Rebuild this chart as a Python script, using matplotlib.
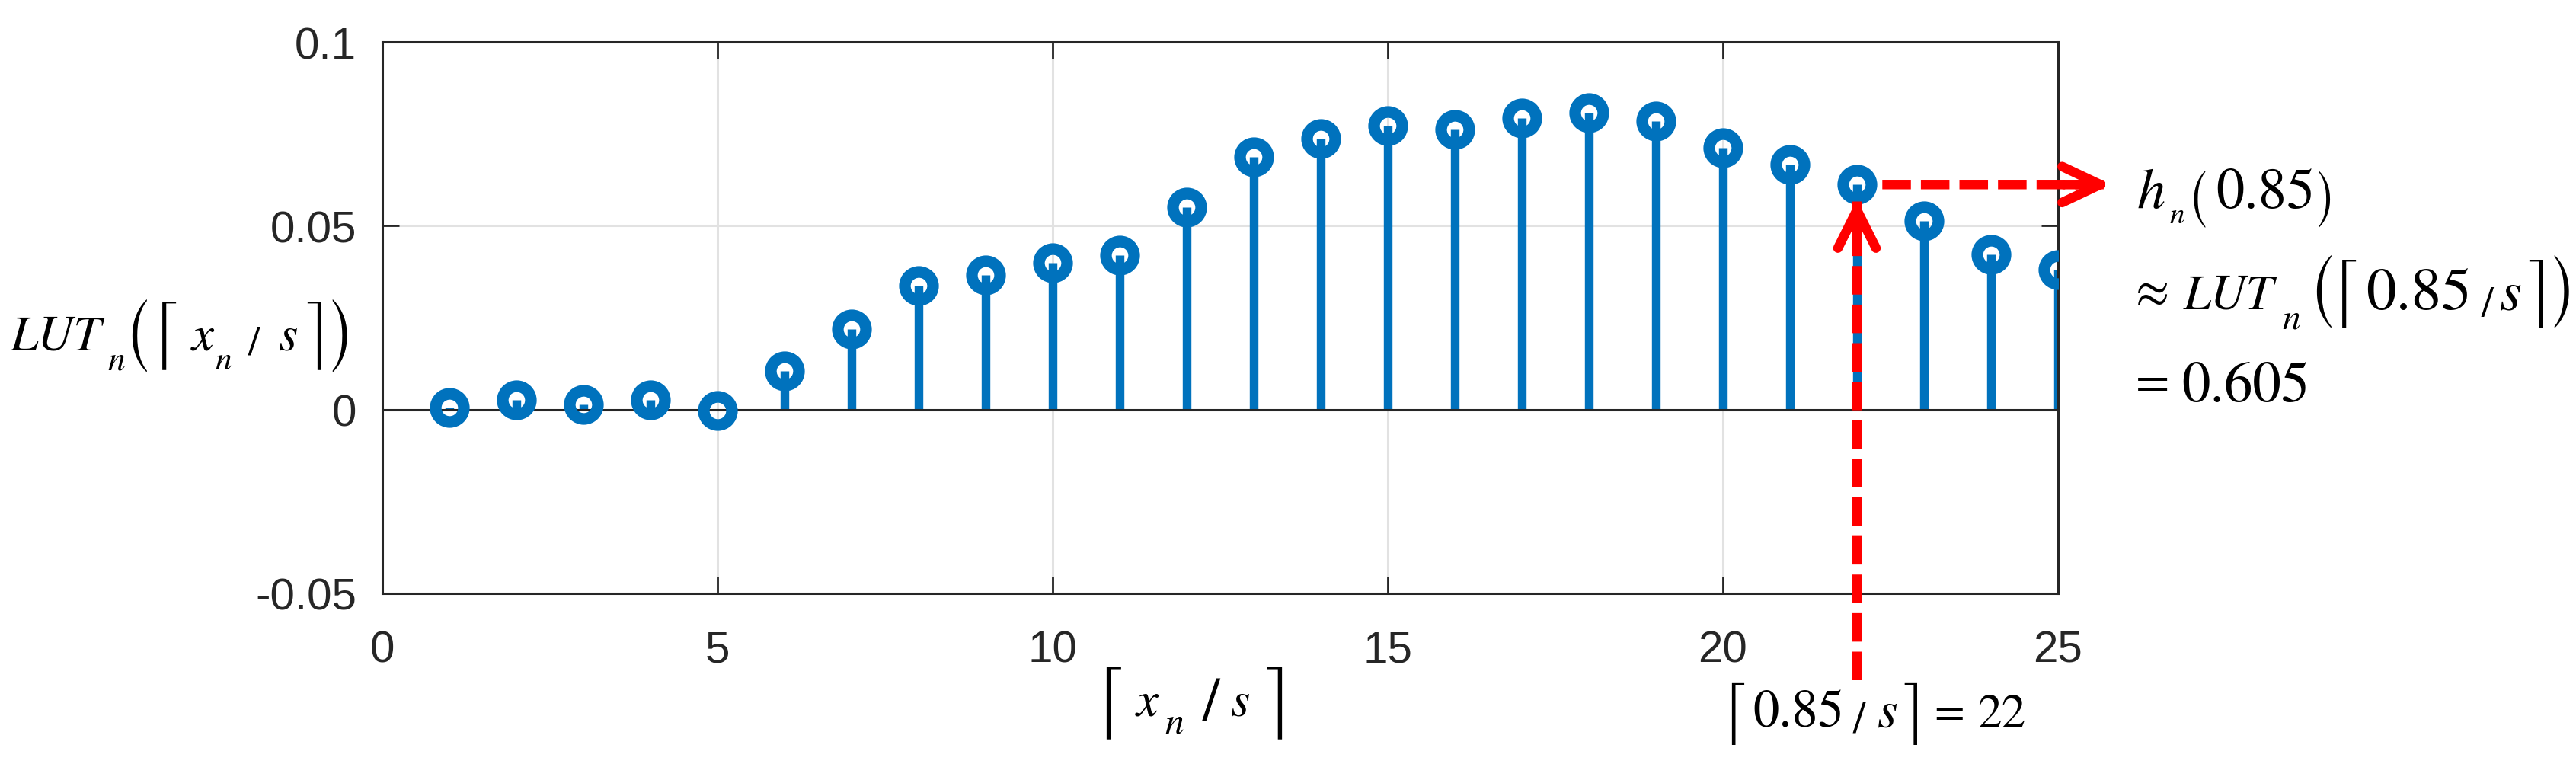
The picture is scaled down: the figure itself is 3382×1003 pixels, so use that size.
import os
import matplotlib as mpl
mpl.use("Agg")
import matplotlib.pyplot as plt
from matplotlib.textpath import TextPath
from matplotlib.font_manager import FontProperties

# ---- data ----
x_idx = list(range(1, 26))
lut_vals = [0.0005, 0.0026, 0.0013, 0.0026, -0.0003, 0.0106, 0.0219, 0.0336,
            0.0367, 0.0400, 0.0419, 0.0550, 0.0688, 0.0736, 0.0772, 0.0762,
            0.0793, 0.0808, 0.0784, 0.0713, 0.0667, 0.0612, 0.0514, 0.0422,
            0.0380]
x_ticks = [0, 5, 10, 15, 20, 25]
y_ticks = [-0.05, 0, 0.05, 0.1]
y_ticklabels = ["-0.05", "0", "0.05", "0.1"]
sel_idx = 22

plt.rcParams['font.family'] = ['Liberation Sans', 'DejaVu Sans']

W, H = 3382, 1004
fig = plt.figure(figsize=(W / 100, H / 100), dpi=100)
ax = fig.add_axes([501.6 / W, 1 - 780 / H, (2702 - 501.6) / W, (780 - 56) / H])

blue = '#0072BD'
dark = '#262626'

ml, sl, bl = ax.stem(x_idx, lut_vals, basefmt=' ')
ml.set(marker='o', markersize=26.6, markeredgewidth=11, markerfacecolor='none',
       markeredgecolor=blue, zorder=3)
sl.set(linewidth=8.2, color=blue, zorder=2)
ax.axhline(0, color=dark, lw=2.2, zorder=2.5)

ax.set_xlim(0, 25)
ax.set_ylim(-0.05, 0.1)
ax.set_xticks(x_ticks)
ax.set_yticks(y_ticks)
ax.set_yticklabels(y_ticklabels)
ax.set_axisbelow(True)
ax.grid(True, color='#e2e2e2', lw=2.2)
for s in ax.spines.values():
    s.set_color(dark)
    s.set_linewidth(2.2)
ax.tick_params(direction='in', length=16, width=2, colors=dark,
               top=True, right=True, labelsize=42)
ax.tick_params(axis='x', pad=34)
ax.tick_params(axis='y', pad=24)

# ---- math labels composed from text pieces (pixel layout, Times-like STIX) ----
_ttf = os.path.join(mpl.get_data_path(), 'fonts', 'ttf')
fp_big = FontProperties(fname=os.path.join(_ttf, 'STIXSizOneSymReg.ttf'))
reg = FontProperties(fname=os.path.join(_ttf, 'STIXGeneral.ttf'))
ita = FontProperties(fname=os.path.join(_ttf, 'STIXGeneralItalic.ttf'))


def _ink(s, fp):
    e = TextPath((0, 0), s, size=100, prop=fp).get_extents()
    return e.x0 / 100.0, e.y0 / 100.0, e.width / 100.0, e.height / 100.0


def _draw(s, fp, x_left, base, f_px):
    x0, _, _, _ = _ink(s, fp)
    fig.text((x_left - x0 * f_px) / W, 1 - base / H, s, fontproperties=fp,
             fontsize=f_px * 0.72, ha='left', va='baseline', color='black')


def put_fs(s, fp, x_left, base, f_px):
    _draw(s, fp, x_left, base, f_px)
    return f_px


def put_w(s, fp, x_left, x_right, base):
    _, _, w, _ = _ink(s, fp)
    f_px = (x_right - x_left) / w
    _draw(s, fp, x_left, base, f_px)
    return f_px


def put_wc(s, fp, x_left, x_right, y_mid):
    _, y0, w, h = _ink(s, fp)
    f_px = (x_right - x_left) / w
    base = y_mid + (y0 + h / 2.0) * f_px
    _draw(s, fp, x_left, base, f_px)
    return f_px


def put_box(s, fp, x_left, top, bot):
    x0, y0, w, h = _ink(s, fp)
    if h <= 0.01:
        fp = reg
        x0, y0, w, h = _ink(s, fp)
    f_px = (bot - top) / h
    base = bot + y0 * f_px
    _draw(s, fp, x_left, base, f_px)
    return f_px


# y-label: LUT_n(⌈x_n / s⌉)
fs_y = put_w('LUT', ita, 13, 138, 460)
put_w('n', ita, 142, 163, 485)
put_box('(', fp_big, 173, 392, 488)
put_box('\u2308', fp_big, 213, 395, 485)
put_fs('x', ita, 250, 460, fs_y)
put_w('n', ita, 283, 303, 485)
put_box('/', reg, 325, 428, 466)
put_fs('s', ita, 367, 460, fs_y)
put_box('\u2309', fp_big, 403, 395, 485)
put_box(')', fp_big, 436, 392, 488)

# x-label: ⌈x_n / s⌉
put_box('\u2308', fp_big, 1452, 875, 970)
put_fs('x', ita, 1490, 940, fs_y)
put_w('n', ita, 1530, 1553, 963)
put_box('/', reg, 1578, 890, 946)
put_fs('s', ita, 1617, 940, fs_y)
put_box('\u2309', fp_big, 1663, 875, 970)

# right text, line 1: h_n(0.85)
fs_r = put_w('0.85', reg, 2911, 3035, 273)
put_fs('h', ita, 2807, 273, fs_r)
put_w('n', ita, 2849, 2867, 293)
put_box('(', fp_big, 2880, 224, 299)
put_box(')', fp_big, 3044, 224, 299)

# line 2: ≈ LUT_n(⌈0.85 / s⌉)
put_wc('\u2248', reg, 2807, 2845, 386)
put_w('LUT', ita, 2866, 2990, 406)
put_w('n', ita, 2997, 3019, 431)
put_box('(', fp_big, 3041, 334, 430)
put_box('\u2308', fp_big, 3075, 340, 430)
put_w('0.85', reg, 3108, 3240, 406)
put_box('/', reg, 3257, 378, 417)
put_fs('s', ita, 3283, 406, fs_r)
put_box('\u2309', fp_big, 3320, 340, 430)
put_box(')', fp_big, 3353, 334, 430)

# line 3: = 0.605
put_wc('=', reg, 2807, 2845, 505)
put_w('0.605', reg, 2866, 3028, 527)

# bottom: ⌈0.85 / s⌉ = 22
put_box('\u2308', fp_big, 2273, 897, 978)
fs_b = put_w('0.85', reg, 2303, 2417, 955)
put_box('/', reg, 2432, 922, 962)
put_fs('s', ita, 2466, 955, fs_b)
put_box('\u2309', fp_big, 2500, 897, 978)
put_wc('=', reg, 2542, 2576, 937)
put_w('22', reg, 2598, 2658, 955)

# ---- red dashed arrows ----
sel_val = lut_vals[sel_idx - 1]
red = '#ff0000'
dash = (0, (3.0, 1.05))
lw_r = 9
ax.annotate('', xy=(sel_idx, sel_val), xycoords='data',
            xytext=(sel_idx, (780 - 894) / (780 - 56)), textcoords=('data', 'axes fraction'),
            arrowprops=dict(arrowstyle='-', color=red, lw=lw_r, linestyle=dash,
                            shrinkA=0, shrinkB=16, capstyle='butt'),
            annotation_clip=False, zorder=5)
ax.annotate('', xy=(sel_idx, sel_val), xycoords='data',
            xytext=(0, -45), textcoords='offset points',
            arrowprops=dict(arrowstyle='->,head_length=36,head_width=18', mutation_scale=1,
                            color=red, lw=lw_r, shrinkA=0, shrinkB=14,
                            capstyle='round', joinstyle='round'),
            annotation_clip=False, zorder=5)
ax.annotate('', xy=(2772 / W, sel_val), xycoords=('figure fraction', 'data'),
            xytext=(sel_idx, sel_val), textcoords='data',
            arrowprops=dict(arrowstyle='-', color=red, lw=lw_r, linestyle=dash,
                            shrinkA=24, shrinkB=4, capstyle='butt'),
            annotation_clip=False, zorder=5)
ax.annotate('', xy=(2772 / W, sel_val), xycoords=('figure fraction', 'data'),
            xytext=(-45, 0), textcoords='offset points',
            arrowprops=dict(arrowstyle='->,head_length=36,head_width=17', mutation_scale=1,
                            color=red, lw=lw_r, shrinkA=0, shrinkB=0,
                            capstyle='round', joinstyle='round'),
            annotation_clip=False, zorder=5)

fig.savefig('out.png', dpi=100)
